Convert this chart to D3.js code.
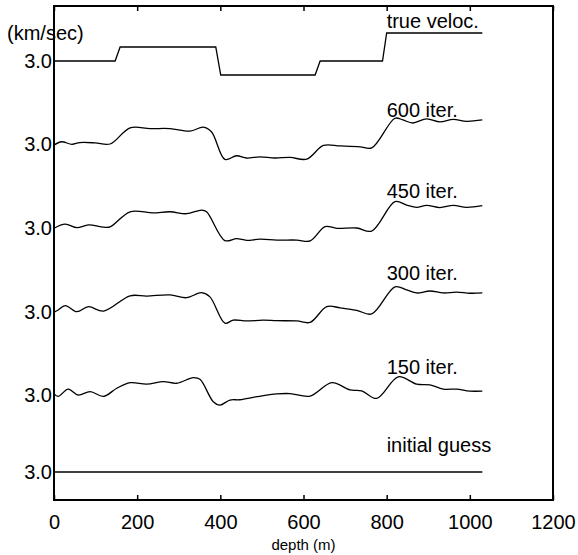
<!DOCTYPE html>
<html lang="en">
    <head>
        <meta charset="utf-8">
        <title>Velocity inversion</title>
        <script type="text/javascript" src="https://cdn.jsdelivr.net/npm/d3@7"></script>
        <style>
            body { margin: 0; background: #fff; }
            text { font-family: "Liberation Sans", Arial, sans-serif; fill: #000; }
        </style>
    </head>
    <body>
        <script type="text/javascript">
            // rows, top to bottom
            var traces = ["true", "600", "450", "300", "150", "initial"];
            var traceLabels = ["true veloc.", "600 iter.", "450 iter.", "300 iter.", "150 iter.", "initial guess"];
            var xTicks = [0, 200, 400, 600, 800, 1000, 1200];
            var refLabel = "3.0";

            // [depth (m), velocity (km/sec)]
            var trueVeloc = [[0, 3.0], [147, 3.0], [159, 3.5], [389, 3.5], [401, 2.5], [628, 2.5],
                             [640, 3.0], [790, 3.0], [800, 4.0], [1030, 4.0]];
            var iter600 = [[0, 2.96], [18, 3.08], [43, 2.99], [62, 3.05], [99, 3.04], [135, 3.0],
                           [183, 3.58], [231, 3.55], [279, 3.55], [327, 3.46], [359, 3.6], [379, 3.43],
                           [411, 2.45], [439, 2.58], [463, 2.5], [495, 2.54], [531, 2.5], [568, 2.52],
                           [608, 2.46], [648, 2.95], [688, 2.93], [736, 2.9], [764, 2.86], [820, 3.92],
                           [839, 3.86], [863, 3.75], [896, 3.9], [928, 3.79], [960, 3.88], [992, 3.81],
                           [1030, 3.86]];
            var iter450 = [[0, 2.99], [27, 3.14], [55, 3.01], [83, 3.11], [119, 3.03], [135, 3.04],
                           [183, 3.58], [238, 3.54], [279, 3.58], [319, 3.51], [355, 3.64], [367, 3.58],
                           [411, 2.55], [439, 2.62], [463, 2.56], [495, 2.6], [536, 2.57], [584, 2.57],
                           [616, 2.54], [652, 3.05], [680, 2.99], [728, 3.0], [764, 2.89], [820, 3.94],
                           [848, 3.82], [872, 3.74], [896, 3.81], [928, 3.73], [960, 3.81], [992, 3.74],
                           [1030, 3.8]];
            var iter300 = [[0, 2.99], [10, 3.07], [27, 3.23], [55, 3.01], [83, 3.19], [119, 3.03],
                           [183, 3.58], [223, 3.57], [279, 3.61], [319, 3.51], [355, 3.69], [375, 3.54],
                           [411, 2.6], [431, 2.71], [463, 2.68], [503, 2.71], [536, 2.69], [584, 2.68],
                           [616, 2.63], [656, 3.19], [688, 3.15], [728, 3.06], [764, 2.93], [820, 3.9],
                           [848, 3.79], [872, 3.68], [904, 3.75], [936, 3.68], [968, 3.71], [1000, 3.67],
                           [1030, 3.68]];
            var iter150 = [[0, 3.04], [10, 2.95], [34, 3.21], [58, 3.0], [87, 3.12], [119, 2.95],
                           [151, 3.24], [183, 3.44], [223, 3.39], [263, 3.48], [295, 3.42], [335, 3.62],
                           [351, 3.56], [383, 2.76], [399, 2.64], [423, 2.82], [447, 2.83], [488, 2.94],
                           [536, 3.04], [568, 3.05], [616, 2.96], [668, 3.44], [712, 3.18], [740, 3.15],
                           [776, 2.88], [828, 3.65], [872, 3.39], [904, 3.36], [936, 3.21], [968, 3.21],
                           [1000, 3.14], [1030, 3.14]];
            var initialGuess = [[0, 3.0], [1030, 3.0]];

            var series = [trueVeloc, iter600, iter450, iter300, iter150, initialGuess];

            var w = 578;
            var h = 555;
            // plot box (note: "top" is taken by window.top, so prefix these)
            var boxL = 54, boxR = 553, boxT = 6, boxB = 500;

            var xScale = d3.scaleLinear()
                            .domain([0, 1200])
                            .range([boxL, boxR]);

            // where each row's 3.0 sits
            var rowScale = d3.scaleOrdinal()
                            .domain(traces)
                            .range([61, 144, 228, 312, 395, 472]);

            // velocity offset within a row, 28 px per km/sec
            var vScale = d3.scaleLinear()
                            .domain([3, 4])
                            .range([0, -28]);

            var svg = d3.select("body")
                        .append("svg")
                        .attr("width", w)
                        .attr("height", h);

            // axes
            var xAxis = d3.axisBottom(xScale)
                            .tickValues(xTicks)
                            .tickFormat(d3.format("d"))
                            .tickSize(-5)
                            .tickPadding(15);

            var gx = svg.append("g")
                        .attr("transform", "translate(0," + boxB + ")")
                        .call(xAxis);
            gx.select(".domain").remove();
            gx.selectAll("line").attr("stroke-width", 1.5);
            gx.selectAll("text")
                .attr("font-size", "20px")
                .attr("font-family", null);

            var gTop = svg.append("g")
                        .attr("transform", "translate(0," + boxT + ")")
                        .call(d3.axisTop(xScale).tickValues(xTicks).tickSize(-5).tickFormat(""));
            gTop.select(".domain").remove();
            gTop.selectAll("line").attr("stroke-width", 1.5);

            var yAxis = d3.axisLeft(rowScale)
                            .tickValues(traces)
                            .tickFormat(function(){ return refLabel; })
                            .tickSize(0)
                            .tickPadding(2);

            var gy = svg.append("g")
                        .attr("transform", "translate(" + boxL + ",0)")
                        .call(yAxis);
            gy.select(".domain").remove();
            gy.selectAll("text")
                .attr("font-size", "20px")
                .attr("font-family", null);

            // frame
            svg.append("rect")
                .attr("x", boxL)
                .attr("y", boxT)
                .attr("width", boxR - boxL)
                .attr("height", boxB - boxT)
                .attr("fill", "none")
                .attr("stroke", "#000")
                .attr("stroke-width", 2);

            // curves
            traces.forEach(function(t, i){
                var line = d3.line()
                            .x(function(d){ return xScale(d[0]); })
                            .y(function(d){ return rowScale(t) + vScale(d[1]); })
                            .curve(i == 0 || i == 5 ? d3.curveLinear : d3.curveCatmullRom.alpha(0.5));

                svg.append("path")
                    .datum(series[i])
                    .attr("d", line)
                    .attr("fill", "none")
                    .attr("stroke", "#000")
                    .attr("stroke-width", 1.3);
            });

            // row labels, lifted above each row's 3.0
            var labelLift = [33, 27, 30, 32, 21, 20];

            svg.selectAll("text.lbl")
                .data(traceLabels)
                .enter()
                .append("text")
                .attr("class", "lbl")
                .text(function(d){ return d; })
                .attr("x", xScale(800))
                .attr("y", function(d, i){ return rowScale(traces[i]) - labelLift[i]; })
                .attr("font-size", "20px");

            svg.append("text")
                .text("(km/sec)")
                .attr("x", 7)
                .attr("y", 40)
                .attr("font-size", "20px");

            svg.append("text")
                .text("depth (m)")
                .attr("x", xScale(600))
                .attr("y", 550)
                .attr("text-anchor", "middle")
                .attr("font-size", "15px");
        </script>
    </body>
</html>
